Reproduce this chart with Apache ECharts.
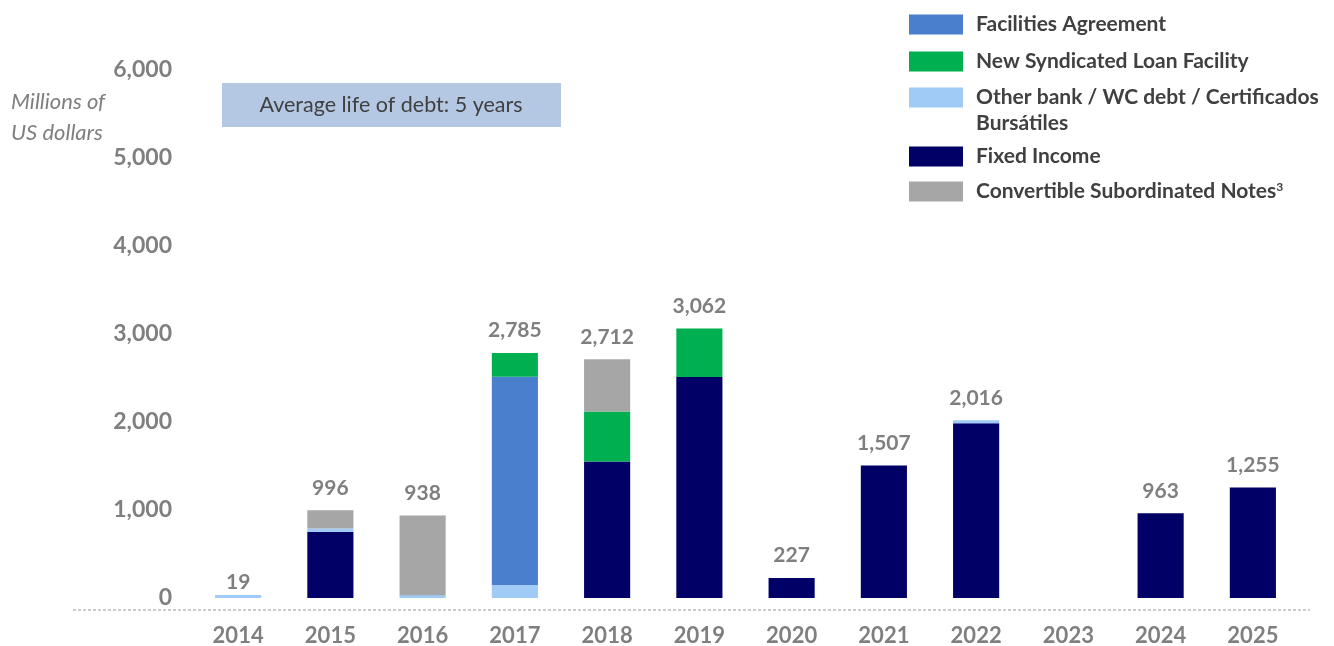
<!DOCTYPE html>
<html>
<head>
<meta charset="utf-8">
<script src="https://cdn.jsdelivr.net/npm/echarts@6/dist/echarts.min.js"></script>
<style>html,body{margin:0;padding:0;background:#fff;}#c{width:1334px;height:646px;}</style>
</head>
<body>
<div id="c"></div>
<script>
var years = ['2014','2015','2016','2017','2018','2019','2020','2021','2022','2023','2024','2025'];
var fixedIncome = [null, 750, null, null, 1550, 2510, 227, 1507, 1986, null, 963, 1255];
var otherBank = [19, 40, 30, 148, null, null, null, null, 30, null, null, null];
var facilities = [null, null, null, 2365, null, null, null, null, null, null, null, null];
var syndicated = [null, null, null, 272, 570, 552, null, null, null, null, null, null];
var convertible = [null, 206, 908, null, 592, null, null, null, null, null, null, null];
var totals = [19, 996, 938, 2785, 2712, 3062, 227, 1507, 2016, null, 963, 1255];
var yTicks = [0, 1000, 2000, 3000, 4000, 5000, 6000];

var NAMES = {
  fa: 'Facilities Agreement',
  syn: 'New Syndicated Loan Facility',
  oth: 'Other bank / WC debt / Certificados Bursátiles',
  fi: 'Fixed Income',
  cv: 'Convertible Subordinated Notes'
};
var COLORS = {fa:'#4a7fcd', syn:'#00b050', oth:'#9fcbf6', fi:'#000066', cv:'#a6a6a6'};
var FONT = 'Lato, "Open Sans", sans-serif';
var GRAY = '#7f7f7f';
var LEG = 21;

function fmt(v){ return String(v).replace(/\B(?=(\d{3})+(?!\d))/g, ','); }

function mkLegend(key, top, formatter){
  var l = {
    data: [NAMES[key]],
    left: 909, top: top, padding: 0,
    orient: 'vertical',
    itemWidth: 54, itemHeight: 20,
    icon: 'rect',
    selectedMode: false,
    textStyle: {fontFamily: FONT, fontWeight: 'bold', fontSize: LEG, color: '#404040', padding: [0,0,0,8],
      rich: {n:{fontFamily: FONT, fontWeight:'bold', fontSize: LEG, color:'#404040'},
             s:{fontFamily: FONT, fontWeight:'bold', fontSize:12, color:'#404040', verticalAlign:'top', padding:[0,0,8,0]}}}
  };
  if (formatter) l.formatter = formatter;
  return l;
}

function barSeries(key, data, extra){
  var s = {
    name: NAMES[key], type: 'bar', stack: 'debt', data: data,
    barWidth: '50%',
    itemStyle: {color: COLORS[key]},
    emphasis: {disabled: true}
  };
  if (extra) for (var k in extra) s[k] = extra[k];
  return s;
}

var totalData = totals.map(function(v, i){
  return i === 0 ? {value: v, label: {distance: 4}} : v;
});

var chart = echarts.init(document.getElementById('c'));
chart.setOption({
  animation: false,
  grid: {left: 192, right: 35, top: 70, bottom: 48, outerBoundsMode: 'none', containLabel: false},
  legend: [
    mkLegend('fa', 14),
    mkLegend('syn', 51),
    mkLegend('oth', 87, function(){ return 'Other bank / WC debt / Certificados'; }),
    mkLegend('fi', 146),
    mkLegend('cv', 181, function(){ return '{n|Convertible Subordinated Notes}{s|3}'; })
  ],
  xAxis: {
    type: 'category', data: years,
    axisLine: {show: false}, axisTick: {show: false},
    axisLabel: {fontFamily: FONT, fontWeight: 'bold', fontSize: 22, color: GRAY, margin: 27}
  },
  yAxis: {
    type: 'value', min: 0, max: 6000, interval: 1000,
    splitLine: {show: false}, axisLine: {show: false}, axisTick: {show: false},
    axisLabel: {fontFamily: FONT, fontWeight: 'bold', fontSize: 23, color: GRAY, margin: 20,
      formatter: function(v){ return yTicks.indexOf(v) >= 0 ? fmt(v) : ''; }}
  },
  series: [
    barSeries('fi', fixedIncome),
    barSeries('oth', otherBank, {barMinHeight: 3}),
    barSeries('fa', facilities),
    barSeries('syn', syndicated),
    barSeries('cv', convertible),
    {
      name: 'Total', type: 'bar', data: totalData, barWidth: '50%', barGap: '-100%', z: 1,
      itemStyle: {color: 'rgba(0,0,0,0)'},
      emphasis: {disabled: true}, silent: true,
      label: {show: true, position: 'top', distance: 12, fontFamily: FONT, fontWeight: 'bold', fontSize: 21, color: GRAY,
        formatter: function(p){ return p.value == null ? '' : fmt(p.value); }}
    }
  ],
  graphic: [
    {type: 'line', silent: true, shape: {x1: 73, y1: 610, x2: 1310, y2: 610},
     style: {stroke: '#999999', lineWidth: 1, lineDash: [3, 2]}},
    {type: 'rect', silent: true, shape: {x: 222, y: 83, width: 339, height: 44},
     style: {fill: '#b4c8e4'}},
    {type: 'text', silent: true, x: 391, y: 105,
     style: {text: 'Average life of debt: 5 years', fontFamily: FONT, fontSize: 21.5, fill: '#404040', align: 'center', verticalAlign: 'middle'}},
    {type: 'text', silent: true, x: 11, y: 86,
     style: {text: 'Millions of\nUS dollars', fontFamily: FONT, fontStyle: 'italic', fontSize: 22, lineHeight: 31, fill: GRAY, align: 'left', verticalAlign: 'top'}},
    {type: 'text', silent: true, x: 976, y: 123,
     style: {text: 'Bursátiles', fontFamily: FONT, fontWeight: 'bold', fontSize: LEG, fill: '#404040', align: 'left', verticalAlign: 'middle'}}
  ]
});
</script>
</body>
</html>
